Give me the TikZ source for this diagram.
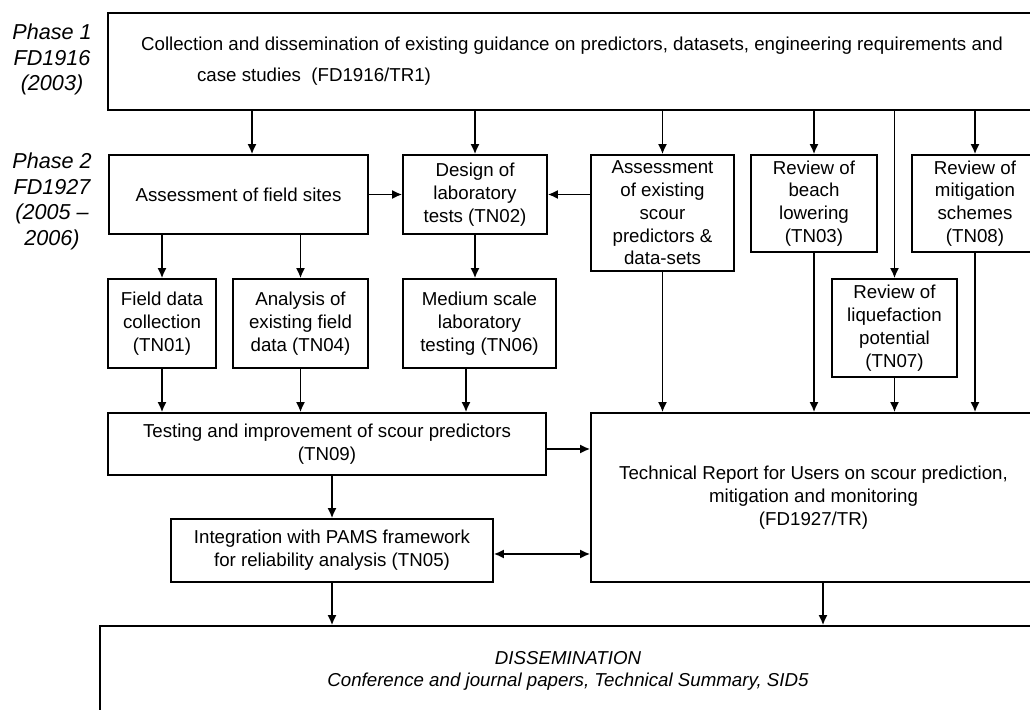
\documentclass[tikz,border=0pt]{standalone}
\usepackage{fontspec}
\setmainfont{Liberation Sans}
\usetikzlibrary{arrows.meta}
\tikzset{
  box/.style={draw, line width=0.85pt, align=center, inner sep=0pt, font=\fontsize{9.35}{11.4}\selectfont},
  arr/.style={-{Latex[length=5pt,width=4.5pt]}, line width=0.85pt},
  arrboth/.style={{Latex[length=5pt,width=4.5pt]}-{Latex[length=5pt,width=4.5pt]}, line width=0.85pt},
  phase/.style={align=center, font=\fontsize{10.8}{12.75}\selectfont\itshape},
}
\begin{document}
\begin{tikzpicture}[x=0.5pt,y=-0.5pt]
\useasboundingbox (0,0) rectangle (1030,710);
\clip (0,0) rectangle (1030,710);
% phase labels
\node[phase] (ph1) at (52,59.5) {Phase 1\\FD1916\\(2003)};
\node[phase] (ph2) at (52,201.5) {Phase 2\\FD1927\\(2005 --\\2006)};
% phase 1
\node[box, align=left, minimum width=464pt, minimum height=48.5pt] (top) at (572,61.5)
  {Collection and dissemination of existing guidance on predictors, datasets, engineering requirements and\\[4.25pt]
   \hspace*{28pt}case studies\ \ (FD1916/TR1)};
% phase 2, first row
\node[box, minimum width=129.5pt, minimum height=39.5pt] (fsites) at (238.5,194.5) {Assessment of field sites};
\node[box, minimum width=72pt, minimum height=39.5pt] (design) at (475,194.5) {Design of\\laboratory\\tests (TN02)};
\node[box, minimum width=71.5pt, minimum height=58pt] (scour) at (662.5,213) {Assessment\\of existing\\scour\\predictors \&\\data-sets};
\node[box, minimum width=63pt, minimum height=48.5pt] (beach) at (814,203.5) {Review of\\beach\\lowering\\(TN03)};
\node[box, minimum width=63pt, minimum height=48.5pt] (mitig) at (975,203.5) {Review of\\mitigation\\schemes\\(TN08)};
% second row
\node[box, minimum width=54pt, minimum height=44.5pt] (fdata) at (162,323.5) {Field data\\collection\\(TN01)};
\node[box, minimum width=67.5pt, minimum height=44.5pt] (analysis) at (300.5,323.5) {Analysis of\\existing field\\data (TN04)};
\node[box, minimum width=76.5pt, minimum height=44.5pt] (medium) at (479.5,323.5) {Medium scale\\laboratory\\testing (TN06)};
\node[box, minimum width=62.5pt, minimum height=49pt] (liquef) at (894.5,328) {Review of\\liquefaction\\potential\\(TN07)};
% outputs
\node[box, minimum width=219pt, minimum height=31pt] (testing) at (327,444) {Testing and improvement of scour predictors\\(TN09)};
\node[box, minimum width=222.5pt, minimum height=84.5pt] (tr) at (813.5,497.5) {Technical Report for Users on scour prediction,\\mitigation and monitoring\\(FD1927/TR)};
\node[box, minimum width=161pt, minimum height=31.5pt] (integ) at (332,550.5) {Integration with PAMS framework\\for reliability analysis (TN05)};
\node[box, minimum width=468pt, minimum height=45pt, font=\fontsize{9.35}{11.25}\selectfont\itshape] (dissem) at (568,671) {DISSEMINATION\\Conference and journal papers, Technical Summary, SID5};
% helper points
\coordinate (fsin) at ([xshift=6.75pt]fsites.north);
\coordinate (mout) at ([xshift=-6.75pt]medium.south);
\coordinate (tout) at ([yshift=-2.5pt]testing.east);
\coordinate (iout) at ([yshift=-1.75pt]integ.east);
\coordinate (rout) at ([xshift=4.75pt]tr.south);
% arrows from phase 1
\draw[arr] (fsin |- top.south) -- (fsin);
\draw[arr] (top.south -| design) -- (design);
\draw[arr] (top.south -| scour) -- (scour);
\draw[arr] (top.south -| beach) -- (beach);
\draw[arr] (top.south -| mitig) -- (mitig);
\draw[arr] (top.south -| liquef) -- (liquef);
% phase 2 links
\draw[arr] (fsites.east |- design.west) -- (design.west);
\draw[arr] (scour.west |- design.east) -- (design.east);
\draw[arr] (fsites.south -| fdata) -- (fdata);
\draw[arr] (fsites.south -| analysis) -- (analysis);
\draw[arr] (design.south) -- (design.south |- medium.north);
\draw[arr] (fdata) -- (fdata |- testing.north);
\draw[arr] (analysis) -- (analysis |- testing.north);
\draw[arr] (mout) -- (mout |- testing.north);
\draw[arr] (scour) -- (scour |- tr.north);
\draw[arr] (beach) -- (beach |- tr.north);
\draw[arr] (liquef) -- (liquef |- tr.north);
\draw[arr] (mitig) -- (mitig |- tr.north);
\draw[arr] (tout) -- (tout -| tr.west);
\draw[arr] (testing.south -| integ) -- (integ);
\draw[arrboth] (iout) -- (iout -| tr.west);
\draw[arr] (integ) -- (integ |- dissem.north);
\draw[arr] (rout) -- (rout |- dissem.north);
\end{tikzpicture}
\end{document}
